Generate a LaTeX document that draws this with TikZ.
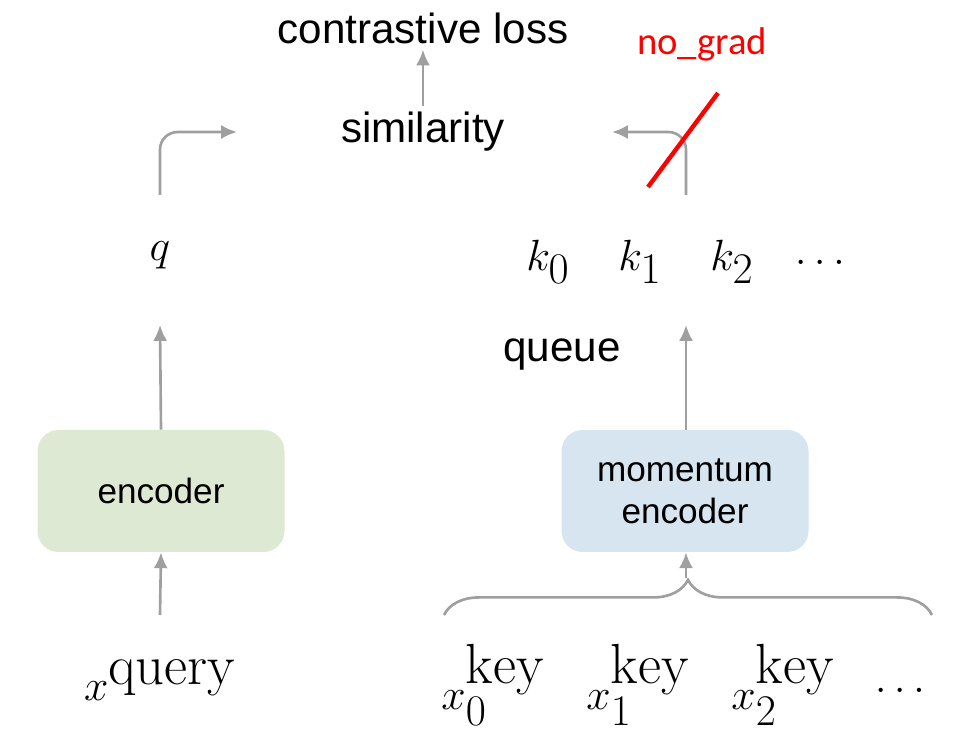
\documentclass[tikz,border=0pt]{standalone}
\usepackage{fontspec}
\setsansfont{Liberation Sans}
\newfontfamily\gradfont{Carlito}
\usetikzlibrary{arrows.meta,decorations.pathreplacing}
\tikzset{
  flow/.style={draw=gray!75, line width=1.5pt, -{Latex[length=9pt,width=8pt]}},
  lbl/.style={font=\sffamily\fontsize{24}{28}\selectfont},
  sym/.style={font=\fontsize{46}{50}\selectfont},
  enc/.style={rounded corners=12pt, minimum width=247*0.02cm, minimum height=122*0.02cm,
    align=center, font=\sffamily\fontsize{20}{24}\selectfont}
}
\begin{document}
\begin{tikzpicture}[x=0.02cm,y=-0.02cm]
            \useasboundingbox (0,0) rectangle (968,756);
            % Top
            \node[lbl] (loss) at (423,28) {contrastive loss};
            \node[lbl] (sim) at (423,132) {similarity};
            \draw[flow] (sim.north) -- (loss.south);

            % Query side
            \node[sym] (q) at (160,255) {$q$};
            \node[enc, fill={rgb,255:red,221;green,233;blue,211}] (enc) at (161,491) {encoder};
            \node[sym] (xq) at (160,680) {$x^{\mathrm{query}}$};
            \coordinate (qin) at (237,132);
            \draw[flow] (xq.north |- 0,615) -- (enc.south);
            \draw[flow] (enc.north) -- (160,325);
            \draw[flow, rounded corners=10pt] (160,195) |- (qin);

            % Key side
            \node[sym] (k0) at (548,262) {$k_0$};
            \node[sym] (k1) at (640,262) {$k_1$};
            \node[sym] (k2) at (732,262) {$k_2$};
            \node[sym] (kd) at (820,262) {$\ldots$};
            \node[lbl] (queue) at (562,355) {queue};
            \node[enc, fill={rgb,255:red,214;green,229;blue,240}] (menc) at (685,491) {momentum\\encoder};
            \node[sym] (x0) at (493,685) {$x_0^{\mathrm{key}}$};
            \node[sym] (x1) at (638,685) {$x_1^{\mathrm{key}}$};
            \node[sym] (x2) at (783,685) {$x_2^{\mathrm{key}}$};
            \node[sym] (xd) at (900,690) {$\ldots$};
            \coordinate (bl) at (444,615);
            \coordinate (br) at (932,615);
            \coordinate (tip) at (686,578);
            \coordinate (kin) at (612,132);
            \draw[draw=gray!75, line width=1.5pt, decorate, decoration={brace, amplitude=20pt}] (bl) -- (br);
            \draw[flow] (tip) -- (menc.south -| tip);
            \draw[flow] (menc.north -| tip) -- (686,325);
            \draw[flow, rounded corners=10pt] (686,195) |- (kin);

            % Stop gradient
            \coordinate (ga) at (718,93);
            \coordinate (gb) at (648,187);
            \draw[red, line width=2.5pt] (ga) -- (gb);
            \node[red, font=\gradfont\fontsize{22}{26}\selectfont] (grad) at (702,44) {no\_grad};
\end{tikzpicture}
\end{document}
